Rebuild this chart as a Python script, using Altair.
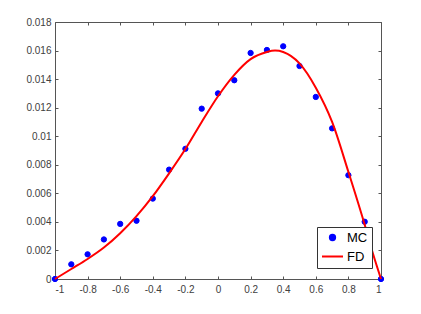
import altair as alt
import pandas as pd

# Monte Carlo samples (blue dots)
mc_x = [-1.0, -0.9, -0.8, -0.7, -0.6, -0.5, -0.4, -0.3, -0.2, -0.1, 0.0,
        0.1, 0.2, 0.3, 0.4, 0.5, 0.6, 0.7, 0.8, 0.9, 1.0]
mc_y = [0.0, 0.00103, 0.00173, 0.00277, 0.00386, 0.00408, 0.00563, 0.00766,
        0.00912, 0.01193, 0.01300, 0.01392, 0.01583, 0.01604, 0.01630,
        0.01492, 0.01275, 0.01055, 0.00727, 0.00401, 0.0]

# Finite-difference solution (red line)
fd_x = [-1.0, -0.9, -0.8, -0.7, -0.6, -0.5, -0.4, -0.3, -0.2, -0.1, 0.0,
        0.1, 0.2, 0.3, 0.35, 0.4, 0.5, 0.6, 0.7, 0.8, 0.9, 0.95, 1.0]
fd_y = [0.0, 0.0007, 0.0014, 0.0022, 0.0032, 0.0044, 0.0058, 0.0074,
        0.0091, 0.0110, 0.0128, 0.0143, 0.0154, 0.0159, 0.0160, 0.0159,
        0.0151, 0.0134, 0.0110, 0.0075, 0.0038, 0.0018, 0.0]

series_names = ["MC", "FD"]
series_colors = ["#0000ff", "#ff0000"]
series_shapes = ["circle", "stroke"]
series_sizes = [28, 441]

x_ticks = [-1, -0.8, -0.6, -0.4, -0.2, 0, 0.2, 0.4, 0.6, 0.8, 1]
y_ticks = [0, 0.002, 0.004, 0.006, 0.008, 0.01, 0.012, 0.014, 0.016, 0.018]

mc_df = pd.DataFrame({"x": mc_x, "y": mc_y, "series": ["MC"] * len(mc_x)})
fd_df = pd.DataFrame({"x": fd_x, "y": fd_y})

FONT = "Liberation Sans"
AX = "#555555"
LAB = "#404040"

xscale = alt.Scale(domain=[-1, 1], nice=False, zero=False)
yscale = alt.Scale(domain=[0, 0.018], nice=False, zero=False)

common_axis = dict(domain=False, grid=False, tickSize=3, offset=-3,
                   tickColor=AX, tickWidth=1, labelFont=FONT,
                   labelFontSize=10, labelColor=LAB)

x_bottom = alt.Axis(orient="bottom", values=x_ticks, labelExpr="'' + datum.value",
                    labelPadding=5, title=None, **common_axis)
y_left = alt.Axis(orient="left", values=y_ticks, labelExpr="'' + datum.value",
                  labelPadding=4, title=None, **common_axis)
x_top = alt.Axis(orient="top", values=x_ticks, labels=False, title=None, **common_axis)
y_right = alt.Axis(orient="right", values=y_ticks, labels=False, title=None, **common_axis)

leg = alt.Legend(title=None, orient="none", legendX=262, legendY=205,
                 strokeColor="#333333", fillColor="white", padding=4,
                 labelFont=FONT, labelFontSize=13, labelColor="black",
                 labelOffset=3, rowPadding=0, symbolStrokeWidth=2)

points = alt.Chart(mc_df).mark_point(filled=True, opacity=1, strokeWidth=1).encode(
    x=alt.X("x:Q", scale=xscale, axis=x_top),
    y=alt.Y("y:Q", scale=yscale, axis=y_right),
    fill=alt.Fill("series:N", scale=alt.Scale(domain=series_names, range=series_colors), legend=leg),
    stroke=alt.Stroke("series:N", scale=alt.Scale(domain=series_names, range=series_colors), legend=leg),
    shape=alt.Shape("series:N", scale=alt.Scale(domain=series_names, range=series_shapes), legend=leg),
    size=alt.Size("series:N", scale=alt.Scale(domain=series_names, range=series_sizes, padding=0), legend=leg),
)

line = alt.Chart(fd_df).mark_line(color="#ff0000", strokeWidth=2, interpolate="monotone").encode(
    x=alt.X("x:Q", scale=xscale, axis=x_bottom),
    y=alt.Y("y:Q", scale=yscale, axis=y_left),
)

chart = alt.layer(points, line).properties(
    width=326, height=257,
    autosize=alt.AutoSizeParams(type="none"),
    padding={"left": 47, "top": 14, "right": 32, "bottom": 27},
    background="white",
).configure_view(stroke=AX, strokeWidth=1)

chart.save("out.html", embed_options={"renderer": "svg", "actions": False})
